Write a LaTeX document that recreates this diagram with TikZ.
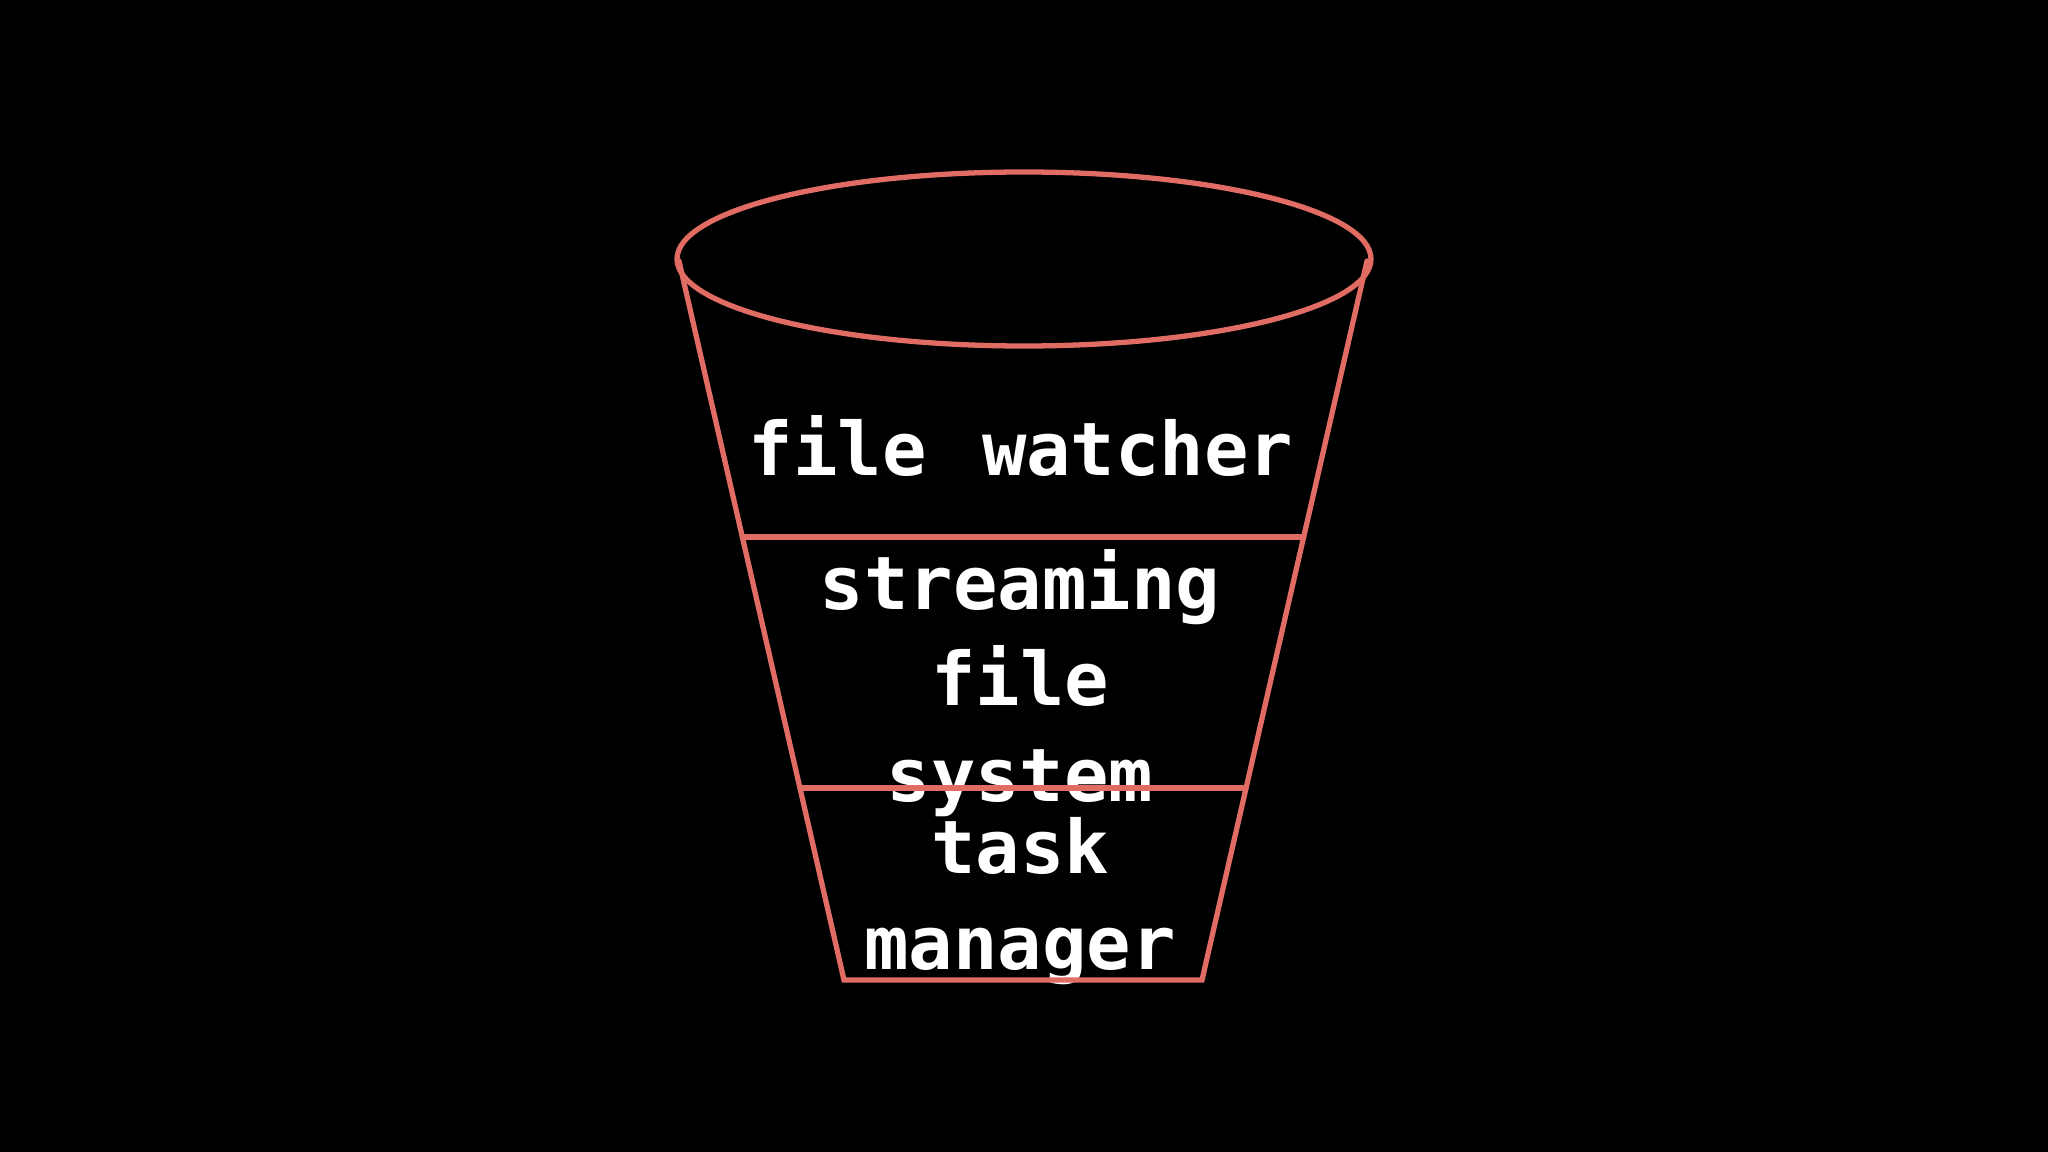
\documentclass[tikz,border=0pt]{standalone}
\usepackage{fontspec}
\setmonofont{DejaVu Sans Mono}
\usetikzlibrary{positioning, calc}
\definecolor{bucket_red}{RGB}{224,108,100}
\tikzset{
  bucket_line/.style = {draw=bucket_red, line width=1.5pt, line cap=round},
  layer_font/.style = {font=\ttfamily\bfseries\fontsize{21}{27.3}\selectfont},
  layer/.style = {layer_font, text=white, align=center, inner sep=0}
}
\begin{document}
\begin{tikzpicture}[x=0.01cm, y=-0.01cm]{
        % Background
        \fill[black] (0,0) rectangle (2048,1152);
        \useasboundingbox (0,0) rectangle (2048,1152);

        % Corners of the bucket
        \coordinate (rim) at (1024,259);
        \coordinate (top_l) at (679,261);
        \coordinate (top_r) at (1367,261);
        \coordinate (base_l) at (844,980);
        \coordinate (base_r) at (1202,980);
        \coordinate (cut_1l) at ($(top_l)!0.384!(base_l)$);
        \coordinate (cut_1r) at ($(top_r)!0.384!(base_r)$);
        \coordinate (cut_2l) at ($(top_l)!0.733!(base_l)$);
        \coordinate (cut_2r) at ($(top_r)!0.733!(base_r)$);

        % Layers
        \node[layer] at (1021,446) (watcher) {file\hspace{0.15em} watcher};
        \node[layer] at (1020,683) (stream) {streaming\\file\\system};
        \node[layer] at (1020,901) (tasks) {task\\manager};

        % Outline
        \draw[bucket_line] (rim) ellipse [x radius=347, y radius=87];
        \draw[bucket_line] (top_l)--(base_l)--(base_r)--(top_r);
        \draw[bucket_line] (cut_1l)--(cut_1r);
        \draw[bucket_line] (cut_2l)--(cut_2r);
        }
\end{tikzpicture}
\end{document}
